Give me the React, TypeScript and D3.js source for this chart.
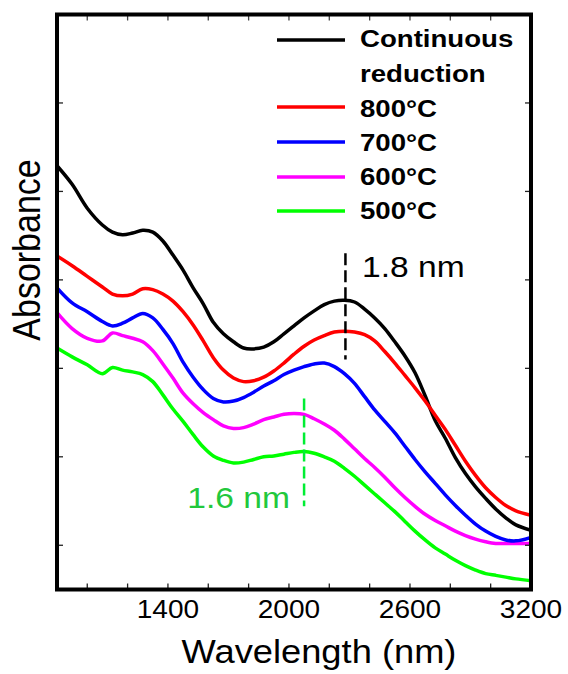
import React from "react";
import * as d3 from "d3";

const wavelengths = [850, 925, 1000, 1075, 1125, 1175, 1225, 1275, 1325, 1375, 1425, 1475, 1525, 1575, 1625, 1675, 1725, 1775, 1825, 1875, 1925, 1975, 2025, 2075, 2125, 2175, 2225, 2275, 2325, 2375, 2425, 2475, 2525, 2575, 2625, 2675, 2725, 2775, 2825, 2875, 2925, 2975, 3025, 3075, 3125, 3200];

const continuous = [0.529, 0.508, 0.481, 0.462, 0.454, 0.451, 0.453, 0.456, 0.454, 0.444, 0.428, 0.411, 0.391, 0.373, 0.352, 0.339, 0.330, 0.323, 0.322, 0.324, 0.330, 0.339, 0.348, 0.357, 0.365, 0.372, 0.376, 0.377, 0.375, 0.367, 0.357, 0.345, 0.330, 0.314, 0.295, 0.269, 0.241, 0.221, 0.199, 0.181, 0.166, 0.153, 0.141, 0.131, 0.123, 0.117];
const t800 = [0.427, 0.416, 0.404, 0.392, 0.384, 0.382, 0.384, 0.390, 0.389, 0.384, 0.376, 0.364, 0.349, 0.331, 0.312, 0.298, 0.289, 0.285, 0.286, 0.290, 0.297, 0.306, 0.316, 0.325, 0.332, 0.337, 0.341, 0.342, 0.341, 0.338, 0.331, 0.319, 0.306, 0.292, 0.278, 0.263, 0.247, 0.231, 0.213, 0.195, 0.179, 0.165, 0.154, 0.145, 0.139, 0.134];
const t700 = [0.391, 0.374, 0.364, 0.353, 0.348, 0.351, 0.357, 0.362, 0.357, 0.344, 0.328, 0.307, 0.290, 0.276, 0.266, 0.262, 0.263, 0.267, 0.273, 0.280, 0.286, 0.293, 0.298, 0.302, 0.305, 0.306, 0.302, 0.294, 0.283, 0.268, 0.253, 0.240, 0.227, 0.212, 0.197, 0.183, 0.170, 0.157, 0.145, 0.134, 0.124, 0.116, 0.110, 0.106, 0.105, 0.109];
const t600 = [0.363, 0.345, 0.334, 0.331, 0.340, 0.337, 0.334, 0.330, 0.320, 0.305, 0.289, 0.272, 0.260, 0.250, 0.242, 0.235, 0.232, 0.233, 0.237, 0.242, 0.245, 0.248, 0.249, 0.248, 0.243, 0.237, 0.230, 0.220, 0.209, 0.198, 0.188, 0.177, 0.165, 0.154, 0.144, 0.135, 0.128, 0.122, 0.116, 0.111, 0.107, 0.104, 0.102, 0.102, 0.102, 0.102];
const t500 = [0.323, 0.313, 0.304, 0.294, 0.301, 0.298, 0.296, 0.293, 0.285, 0.270, 0.254, 0.240, 0.225, 0.211, 0.201, 0.196, 0.193, 0.194, 0.197, 0.200, 0.201, 0.203, 0.205, 0.206, 0.204, 0.200, 0.195, 0.187, 0.178, 0.168, 0.158, 0.148, 0.138, 0.127, 0.116, 0.106, 0.097, 0.090, 0.083, 0.077, 0.072, 0.068, 0.066, 0.064, 0.062, 0.060];

const seriesNames = ["Continuous reduction", "800°C", "700°C", "600°C", "500°C"];
const seriesColors = ["#000000", "#ff0000", "#0000ff", "#ff00ff", "#00ff00"];
const seriesValues = [continuous, t800, t700, t600, t500];
const legendLabels = [["Continuous", "reduction"], ["800°C"], ["700°C"], ["600°C"], ["500°C"]];

const xTickLabels = [1400, 2000, 2600, 3200];
const xMinorTicks = [1000, 1200, 1400, 1600, 1800, 2000, 2200, 2400, 2600, 2800, 3000];
const yTicks = [0.1, 0.2, 0.3, 0.4, 0.5, 0.6];
const peak18 = { wavelength: 2280, label: "1.8 nm", from: 0.43, to: 0.31 };
const peak16 = { wavelength: 2075, label: "1.6 nm", from: 0.266, to: 0.144 };

const W = 568, H = 674;
const L = 57, R = 531, T = 14.5, B = 589.5;
const FONT = "'Liberation Sans', Arial, Helvetica, sans-serif";

export default function App() {
  const x = d3.scaleLinear().domain([850, 3200]).range([L, R]);
  const y = d3.scaleLinear().domain([0.05, 0.7]).range([B, T]);
  const line = d3.line<number>()
    .x((_, i) => x(wavelengths[i]))
    .y((d) => y(d))
    .curve(d3.curveCatmullRom.alpha(0.5));

  const drawOrder = [4, 3, 2, 0, 1];
  const legendRowsY = [40, 107, 142, 177, 211];
  const legendTextY = [[47, 82], [117], [151], [185], [219]];

  return (
    <svg width={W} height={H} style={{ display: "block", position: "absolute", left: 0, top: 0 }} fontFamily={FONT}>
      <defs>
        <clipPath id="plotclip">
          <rect x={L} y={T} width={R - L} height={B - T} />
        </clipPath>
      </defs>
      <rect x={0} y={0} width={W} height={H} fill="#fff" />
      <g clipPath="url(#plotclip)">
        {drawOrder.map((si) => (
          <path key={si} d={line(seriesValues[si]) || ""} fill="none" stroke={seriesColors[si]} strokeWidth={3.5} strokeLinejoin="round" />
        ))}
      </g>
      {xMinorTicks.map((t) => (
        <g key={"xt" + t}>
          <line x1={x(t)} x2={x(t)} y1={B} y2={B - 6} stroke="#222" strokeWidth={1.3} />
          <line x1={x(t)} x2={x(t)} y1={T} y2={T + 6} stroke="#444" strokeWidth={1.3} />
        </g>
      ))}
      {yTicks.map((t) => (
        <g key={"yt" + t}>
          <line x1={L} x2={L + 6} y1={y(t)} y2={y(t)} stroke="#222" strokeWidth={1.3} />
          <line x1={R} x2={R - 6} y1={y(t)} y2={y(t)} stroke="#222" strokeWidth={1.3} />
        </g>
      ))}
      <rect x={L} y={T} width={R - L} height={B - T} fill="none" stroke="#000" strokeWidth={4} />
      {xTickLabels.map((t) => (
        <text key={"xl" + t} transform={`translate(${x(t)},618) scale(1.1,1)`} textAnchor="middle" fontSize={25.5} fill="#000">{t}</text>
      ))}
      <text transform={`translate(319,663) scale(1.1,1)`} textAnchor="middle" fontSize={33} fill="#000">Wavelength (nm)</text>
      <text transform={`translate(40,250) scale(1.13,1) rotate(-90)`} textAnchor="middle" fontSize={34} fill="#000">Absorbance</text>

      {seriesNames.map((n, i) => (
        <g key={"lg" + n}>
          <line x1={277} x2={345} y1={legendRowsY[i]} y2={legendRowsY[i]} stroke={seriesColors[i]} strokeWidth={3.5} />
          {legendLabels[i].map((s, j) => (
            <text key={s} transform={`translate(360,${legendTextY[i][j]}) scale(1.15,1)`} fontSize={24} fontWeight="bold" fill="#000">{s}</text>
          ))}
        </g>
      ))}

      <line x1={x(peak18.wavelength)} x2={x(peak18.wavelength)} y1={y(peak18.from)} y2={y(peak18.to)} stroke="#000" strokeWidth={2.5} strokeDasharray="12,5" />
      <text transform={`translate(362,277) scale(1.12,1)`} fontSize={30} fill="#000">{peak18.label}</text>
      <line x1={x(peak16.wavelength)} x2={x(peak16.wavelength)} y1={y(peak16.from)} y2={y(peak16.to)} stroke="#00ee33" strokeWidth={2.5} strokeDasharray="12,5" />
      <text transform={`translate(290,508) scale(1.12,1)`} textAnchor="end" fontSize={30} fill="#22c83c">{peak16.label}</text>
    </svg>
  );
}
